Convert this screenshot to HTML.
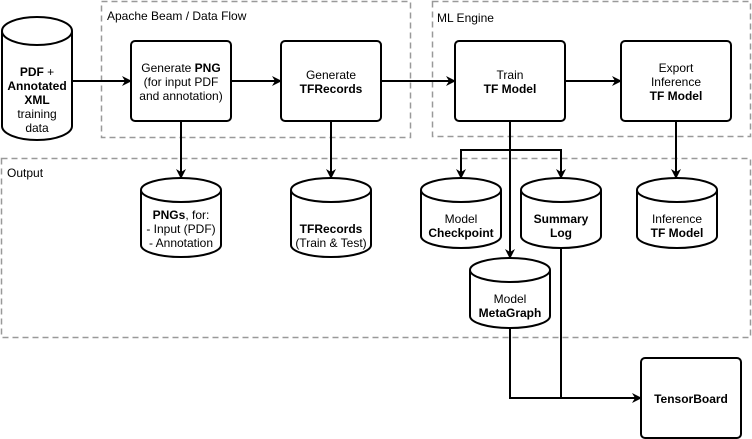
<!DOCTYPE html>
<html><head><meta charset="utf-8"><style>
html,body{margin:0;padding:0;background:#fff;}
svg{display:block;font-family:"Liberation Sans",sans-serif;font-size:12px;}
</style></head><body>
<svg width="752" height="439" viewBox="0 0 752 439" xmlns="http://www.w3.org/2000/svg">
<defs>
<marker id="a" markerWidth="10" markerHeight="10" refX="9" refY="5" orient="auto" markerUnits="userSpaceOnUse">
<path d="M0,0 L10,5 L0,10 L3,5 Z" fill="#000"/></marker>
</defs>
<g fill="none" stroke="#999" stroke-width="1.5" stroke-dasharray="6,4">
<rect x="101.5" y="1.5" width="309" height="136"/>
<rect x="432.5" y="1.5" width="318" height="135"/>
<rect x="1.5" y="158.5" width="749" height="179"/>
</g>
<g fill="#000">
<text x="107" y="20">Apache Beam / Data Flow</text>
<text x="437" y="22">ML Engine</text>
<text x="7" y="177">Output</text>
</g>
<g stroke="#000" stroke-width="2" fill="none">
<line x1="72" y1="81" x2="131" y2="81" marker-end="url(#a)"/>
<line x1="231" y1="81" x2="281" y2="81" marker-end="url(#a)"/>
<line x1="381" y1="81" x2="455" y2="81" marker-end="url(#a)"/>
<line x1="565" y1="81" x2="621" y2="81" marker-end="url(#a)"/>
<line x1="181" y1="121" x2="181" y2="178" marker-end="url(#a)"/>
<line x1="331" y1="121" x2="331" y2="178" marker-end="url(#a)"/>
<line x1="510" y1="121" x2="510" y2="258" marker-end="url(#a)"/>
<polyline points="461,178 461,150 561,150 561,178" marker-start="none"/>
<line x1="461" y1="160" x2="461" y2="178" marker-end="url(#a)"/>
<line x1="561" y1="160" x2="561" y2="178" marker-end="url(#a)"/>
<line x1="676" y1="121" x2="676" y2="178" marker-end="url(#a)"/>
<polyline points="510,328 510,398 641,398" marker-end="url(#a)"/>
<line x1="561" y1="248" x2="561" y2="398"/>
</g>
<g stroke="#000" stroke-width="2" fill="#fff">
<rect x="131" y="41" width="100" height="80" rx="4"/>
<rect x="281" y="41" width="100" height="80" rx="4"/>
<rect x="455" y="41" width="110" height="80" rx="4"/>
<rect x="621" y="41" width="110" height="80" rx="4"/>
<rect x="641" y="358" width="100" height="80" rx="4"/>
<!-- cylinders -->
<path d="M2,31 A35,14 0 0 1 72,31 V126 A35,14 0 0 1 2,126 Z"/><path d="M2,31 A35,14 0 0 0 72,31" fill="none"/>
<path d="M141,190 A40,12 0 0 1 221,190 V245 A40,12 0 0 1 141,245 Z"/><path d="M141,190 A40,12 0 0 0 221,190" fill="none"/>
<path d="M291,190 A40,12 0 0 1 371,190 V245 A40,12 0 0 1 291,245 Z"/><path d="M291,190 A40,12 0 0 0 371,190" fill="none"/>
<path d="M421,190 A40,12 0 0 1 501,190 V236 A40,12 0 0 1 421,236 Z"/><path d="M421,190 A40,12 0 0 0 501,190" fill="none"/>
<path d="M521,190 A40,12 0 0 1 601,190 V236 A40,12 0 0 1 521,236 Z"/><path d="M521,190 A40,12 0 0 0 601,190" fill="none"/>
<path d="M637,190 A40,12 0 0 1 717,190 V236 A40,12 0 0 1 637,236 Z"/><path d="M637,190 A40,12 0 0 0 717,190" fill="none"/>
<path d="M470,270 A40,12 0 0 1 550,270 V316 A40,12 0 0 1 470,316 Z"/><path d="M470,270 A40,12 0 0 0 550,270" fill="none"/>
</g>
<g fill="#000" text-anchor="middle">
<text x="37" y="76"><tspan font-weight="bold">PDF</tspan> +</text>
<text x="37" y="90" font-weight="bold">Annotated</text>
<text x="37" y="104" font-weight="bold">XML</text>
<text x="37" y="118">training</text>
<text x="37" y="132">data</text>
<text x="181" y="72">Generate <tspan font-weight="bold">PNG</tspan></text>
<text x="181" y="86">(for input PDF</text>
<text x="181" y="100">and annotation)</text>
<text x="331" y="79">Generate</text>
<text x="331" y="93" font-weight="bold">TFRecords</text>
<text x="510" y="79">Train</text>
<text x="510" y="93" font-weight="bold">TF Model</text>
<text x="676" y="72">Export</text>
<text x="676" y="86">Inference</text>
<text x="676" y="100" font-weight="bold">TF Model</text>
<text x="691" y="403" font-weight="bold">TensorBoard</text>
<text x="181" y="219"><tspan font-weight="bold">PNGs</tspan>, for:</text>
<text x="181" y="233">- Input (PDF)</text>
<text x="181" y="247">- Annotation</text>
<text x="331" y="233" font-weight="bold">TFRecords</text>
<text x="331" y="247">(Train &amp; Test)</text>
<text x="461" y="223">Model</text>
<text x="461" y="237" font-weight="bold">Checkpoint</text>
<text x="561" y="223" font-weight="bold">Summary</text>
<text x="561" y="237" font-weight="bold">Log</text>
<text x="677" y="223">Inference</text>
<text x="677" y="237" font-weight="bold">TF Model</text>
<text x="510" y="303">Model</text>
<text x="510" y="317" font-weight="bold">MetaGraph</text>
</g>
</svg>
</body></html>
